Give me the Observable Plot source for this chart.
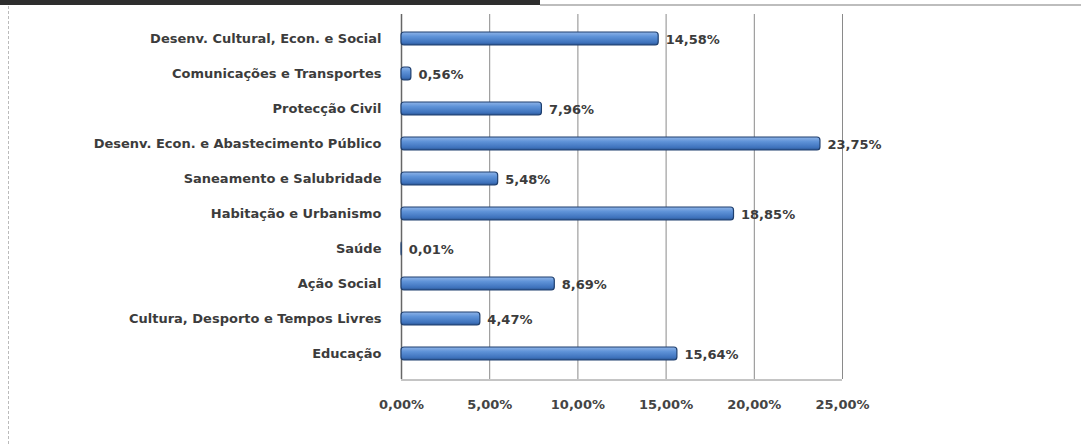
<!DOCTYPE html>
<html>
<head>
<meta charset="utf-8">
<script src="https://cdn.jsdelivr.net/npm/d3@7"></script>
<script src="https://cdn.jsdelivr.net/npm/@observablehq/plot@0.6"></script>
<style>
  html, body { margin: 0; padding: 0; background: #fff; }
  #wrap { position: relative; width: 1081px; height: 444px; overflow: hidden; }
  #topdark { position: absolute; left: 0; top: 0; width: 540px; height: 5px; background: #2e2e2e; }
  #topgray { position: absolute; left: 540px; top: 4px; width: 541px; height: 2px; background: #bdbdbd; }
  #leftline { position: absolute; left: 8px; top: 6px; width: 0; height: 438px; border-left: 1px dashed #bbb; }
  #chart { position: absolute; left: 0; top: 0; }
</style>
</head>
<body>
<div id="wrap">
  <div id="chart"></div>
  <div id="topdark"></div>
  <div id="topgray"></div>
  <div id="leftline"></div>
</div>
<script>
const categories = [
  "Desenv. Cultural, Econ. e Social",
  "Comunicações e Transportes",
  "Protecção Civil",
  "Desenv. Econ. e Abastecimento Público",
  "Saneamento e Salubridade",
  "Habitação e Urbanismo",
  "Saúde",
  "Ação Social",
  "Cultura, Desporto e Tempos Livres",
  "Educação"
];
const values = [14.58, 0.56, 7.96, 23.75, 5.48, 18.85, 0.01, 8.69, 4.47, 15.64];
const xTicks = [0, 5, 10, 15, 20, 25];

const data = categories.map((c, i) => ({category: c, value: values[i]}));
const pct = v => v.toFixed(2).replace(".", ",") + "%";

const chart = Plot.plot({
  width: 1081,
  height: 444,
  marginLeft: 401,
  marginRight: 239,
  marginTop: 14,
  marginBottom: 65,
  style: {fontFamily: "'DejaVu Sans', sans-serif", fontSize: "13px", color: "#3c3c3c", background: "transparent"},
  x: {domain: [0, 25], ticks: xTicks, tickFormat: pct, label: null},
  y: {domain: categories, paddingInner: 0.62, paddingOuter: 0.5, label: null},
  marks: [
    Plot.ruleX(xTicks, {stroke: "#8a8a8a", strokeWidth: 1}),
    Plot.ruleX([0], {stroke: "#666", strokeWidth: 1.5}),
    Plot.barX(data, {
      x: "value", y: "category",
      fill: "url(#barGrad)", stroke: "#1f3f6e", strokeWidth: 1.2, rx: 3
    }),
    Plot.text(data, {
      x: "value", y: "category", text: d => pct(d.value),
      textAnchor: "start", dx: 7, dy: 1, fill: "#3c3c3c", fontWeight: "bold", fontSize: 13
    }),
    Plot.axisY({tickSize: 0, tickPadding: 20, fontWeight: "bold", fontSize: 13, fill: "#3c3c3c"}),
    Plot.axisX({ticks: xTicks, tickFormat: pct, tickSize: 0, tickPadding: 20, fontWeight: "bold", fontSize: 13, fill: "#444", label: null})
  ]
});

const svg = d3.select(chart);
const defs = svg.insert("defs", ":first-child");
const g = defs.append("linearGradient").attr("id", "barGrad").attr("x1", 0).attr("y1", 0).attr("x2", 0).attr("y2", 1);
g.append("stop").attr("offset", "0%").attr("stop-color", "#8fb4e8");
g.append("stop").attr("offset", "35%").attr("stop-color", "#5f93d8");
g.append("stop").attr("offset", "80%").attr("stop-color", "#3f73bd");
g.append("stop").attr("offset", "100%").attr("stop-color", "#2b5592");

// floor line of the plot area
svg.append("line")
  .attr("x1", 401).attr("x2", 842).attr("y1", 380).attr("y2", 380)
  .attr("stroke", "#8a8a8a").attr("stroke-width", 1);

document.getElementById("chart").appendChild(chart);
</script>
</body>
</html>
